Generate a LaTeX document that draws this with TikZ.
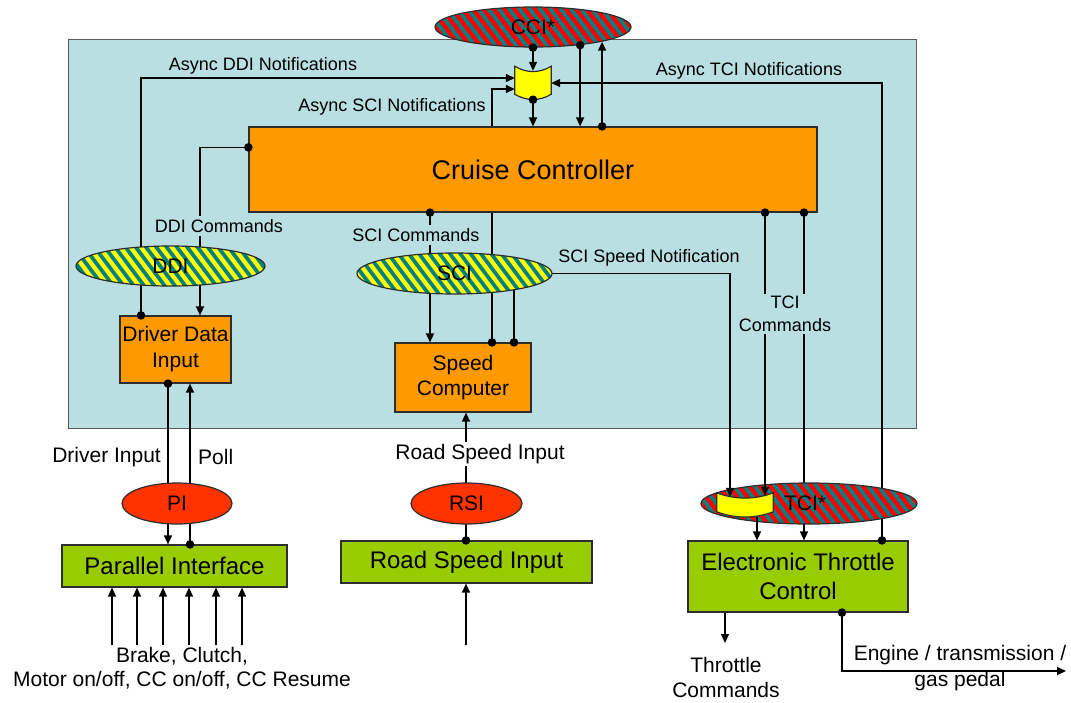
\documentclass[tikz,border=0pt]{standalone}
\usepackage{fontspec}
\setmainfont{Liberation Sans}
\usetikzlibrary{arrows.meta,calc,shapes.geometric}
\pgfdeclarelayer{back}
\pgfdeclarelayer{behind}
\pgfdeclarelayer{front}
\pgfsetlayers{back,behind,main,front}
\definecolor{bgblue}{RGB}{185,223,227}
\definecolor{ccorange}{RGB}{255,153,0}
\definecolor{ifgreen}{RGB}{153,204,0}
\definecolor{pired}{RGB}{255,51,0}
\definecolor{stred}{RGB}{255,0,0}
\definecolor{steal}{RGB}{0,128,128}
\definecolor{styellow}{RGB}{255,255,0}
\definecolor{edge}{RGB}{45,45,45}
\definecolor{frame}{RGB}{90,90,90}
\begin{document}
\begin{tikzpicture}[x=1pt,y=-1pt,
  every node/.style={inner sep=0pt},
  lbl/.style={font=\fontsize{18}{23}\selectfont, align=center},
  lblbg/.style={lbl, fill=bgblue, inner xsep=2pt, inner ysep=3pt},
  extlbl/.style={font=\fontsize{21}{25}\selectfont, align=center},
  box/.style={draw=edge, line width=1.2pt, fill=#1, align=center},
  ell/.style={ellipse, draw=edge, line width=1.2pt, font=\fontsize{21}{25}\selectfont},
  stripes/.style 2 args={fill=#1, path picture={
      \foreach \k in {-16,...,16}
        \draw[#2, line width=3.7pt] ($(path picture bounding box.center)+(\k*10.3-30,-40)$) -- ++(60,80);}},
  conn/.style={draw=black, line width=1.3pt},
  arr/.style={conn, -{Triangle[length=9pt,width=8pt]}},
  dotc/.style={fill=black},
  buffer/.style={draw=edge, line width=1.2pt, fill=styellow}
]
\useasboundingbox (0,0) rectangle (1071,702);

% column coordinates
\coordinate (cA) at (141,0);
\coordinate (cB) at (200,0);
\coordinate (cC) at (168,0);
\coordinate (cD) at (190,0);
\coordinate (cE) at (430,0);
\coordinate (cF) at (492,0);
\coordinate (cG) at (514,0);
\coordinate (cK) at (730,0);
\coordinate (cL) at (765,0);
\coordinate (cM) at (804,0);
\coordinate (cN) at (882,0);
\coordinate (cO) at (757,0);
\coordinate (cP) at (466,0);
\coordinate (cR) at (842,0);

\begin{pgfonlayer}{back}
  \node[draw=frame, line width=1pt, fill=bgblue, minimum width=848pt, minimum height=389pt] (sys) at (492,233.5) {};
\end{pgfonlayer}

% boxes
\node[box=ccorange, minimum width=568pt, minimum height=85pt, font=\fontsize{27}{32}\selectfont] (cc) at (533,169.5) {Cruise Controller};
\node[box=ccorange, minimum width=111pt, minimum height=67pt, font=\fontsize{21}{26}\selectfont] (ddin) at (175.5,349.5) {Driver Data\\Input};
\node[box=ccorange, minimum width=136pt, minimum height=69pt, font=\fontsize{21}{25}\selectfont] (spc) at (463,377.5) {Speed\\Computer};
\node[box=ifgreen, minimum width=225pt, minimum height=42pt, font=\fontsize{24}{29}\selectfont] (pif) at (174.5,566) {Parallel Interface};
\node[box=ifgreen, minimum width=251pt, minimum height=42pt, font=\fontsize{24}{29}\selectfont] (rsib) at (466.5,562) {Road Speed Input};
\node[box=ifgreen, minimum width=220pt, minimum height=71pt, font=\fontsize{24}{29}\selectfont] (etc) at (798,576.5) {Electronic Throttle\\Control};
\coordinate (ddcmd) at ($(cc.north west)+(0,21)$);

% ellipses
\node[ell, stripes={stred}{steal}, minimum width=196pt, minimum height=40pt] (cci) at (533,27) {CCI*};
\node[ell, stripes={styellow}{steal}, minimum width=189pt, minimum height=40pt] (ddi) at (170.5,266) {DDI};
\node[ell, stripes={styellow}{steal}, minimum width=195pt, minimum height=41pt] (sci) at (454.5,273.5) {SCI};
\node[ell, fill=pired, minimum width=110pt, minimum height=41pt] (pi) at (177,503.5) {PI};
\node[ell, fill=pired, minimum width=111pt, minimum height=41pt] (rsi) at (466.5,503.5) {RSI};
\node[ell, stripes={stred}{steal}, minimum width=216pt, minimum height=41pt] (tci) at (809,503.5) {\hspace*{-8pt}TCI*};

% buffers
\node[minimum width=36pt, minimum height=33pt] (buf1) at (533,83) {};
\node[minimum width=56pt, minimum height=24pt] (buf2) at (745,505) {};
\filldraw[buffer] (buf1.north west) .. controls +(12,7) and +(-12,7) .. (buf1.north east)
  -- ++(0,28) .. controls +(-12,7) and +(12,7) .. ($(buf1.north west)+(0,28)$) -- cycle;
\filldraw[buffer] (buf2.north west) .. controls +(18,7) and +(-18,7) .. (buf2.north east)
  -- ++(0,19) .. controls +(-18,7) and +(18,7) .. ($(buf2.north west)+(0,19)$) -- cycle;

% connectors passing behind shapes
\begin{pgfonlayer}{behind}
  \draw[arr] (ddin.north -| cA) |- ($(buf1.west)+(0,-5)$);
  \draw[arr] (ddcmd) -| (ddin.north -| cB);
  \draw[arr] (ddin.south -| cC) -- (pif.north -| cC);
  \draw[arr] (pif.north -| cD) -- (ddin.south -| cD);
  \draw[arr] (cc.south -| cE) -- (spc.north -| cE);
  \draw[arr] (spc.north -| cF) |- ($(buf1.west)+(0,6)$);
  \draw[conn] (spc.north -| cG) |- (sci.east -| cK) -- (tci.north -| cK);
  \draw[arr] (cc.south -| cM) -- (etc.north -| cM);
  \draw[arr] (etc.north -| cN) |- (buf1.east);
  \draw[arr] (rsib.north -| cP) -- (spc.south -| cP);
\end{pgfonlayer}

% labels
\node[lbl] (lddi) at (263,66) {Async DDI Notifications};
\node[lbl] (lsci) at (392,107) {Async SCI Notifications};
\node[lbl] (ltci) at (749,71) {Async TCI Notifications};
\node[lblbg] (lddic) at (219,226) {DDI Commands};
\node[lblbg] (lscic) at (416,235) {SCI Commands};
\node[lbl] (lspd) at (649,258) {SCI Speed Notification};
\node[extlbl, anchor=east] (ldin) at (161,457) {Driver Input};
\node[extlbl, anchor=west] (lpoll) at (198,457) {Poll};
\node[extlbl, fill=white, inner ysep=2pt] (lrsi) at (480,454) {Road Speed Input};
\node[extlbl, font=\fontsize{21}{24}\selectfont] (lpins) at (182,668) {Brake, Clutch,\\Motor on/off, CC on/off, CC Resume};
\node[extlbl] (lthr) at (726,677) {Throttle\\Commands};
\node[extlbl, font=\fontsize{21}{26}\selectfont] (leng) at (960,668) {Engine / transmission /\\gas pedal};

% external inputs / outputs
\foreach \x [count=\i] in {112,137,163,189,216,242}{
  \coordinate (in\i) at (\x,645);
  \draw[arr] (in\i) -- (pif.south -| in\i);
}
\coordinate (rsin) at (466,645);
\draw[arr] (rsin) -- (rsib.south -| rsin);
\coordinate (thr) at (725,643);
\draw[arr] (etc.south -| thr) -- (thr);
\coordinate (eng) at (1066,671);
\draw[arr] (etc.south -| cR) |- (eng);

% connectors in front
\begin{pgfonlayer}{front}
  \draw[arr] (tci.north -| cK) -- ($(buf2.north -| cK)+(0,4)$);
  \draw[arr] (cc.south -| cL) -- ($(buf2.north -| cL)+(0,3)$);
  \draw[arr] (buf2.south -| cO) -- (etc.north -| cO);
  \draw[arr] (cci.south) -- ($(buf1.north)+(0,4.5)$);
  \draw[arr] (buf1.south) -- (cc.north);
  \draw[arr] (cci.-21) -- (cc.north -| cci.-21);
  \draw[arr] (cc.north -| cci.-12) -- (cci.-12);
  \node[lblbg, inner ysep=2pt] (ltcic) at (785,314) {TCI\\Commands};
  % dots
  \foreach \p in {cci.south, cci.-21, buf1.south, ddcmd}
    \fill[dotc] (\p) circle[radius=4.3];
  \fill[dotc] (cc.north -| cci.-12) circle[radius=4.3];
  \fill[dotc] (ddin.north -| cA) circle[radius=4.3];
  \fill[dotc] (cc.south -| cE) circle[radius=4.3];
  \fill[dotc] (spc.north -| cF) circle[radius=4.3];
  \fill[dotc] (spc.north -| cG) circle[radius=4.3];
  \fill[dotc] (cc.south -| cL) circle[radius=4.3];
  \fill[dotc] (cc.south -| cM) circle[radius=4.3];
  \fill[dotc] (ddin.south -| cC) circle[radius=4.3];
  \fill[dotc] (pif.north -| cD) circle[radius=4.3];
  \fill[dotc] (rsib.north -| cP) circle[radius=4.3];
  \fill[dotc] (etc.north -| cN) circle[radius=4.3];
  \fill[dotc] (etc.south -| cR) circle[radius=4.3];
\end{pgfonlayer}
\end{tikzpicture}
\end{document}
